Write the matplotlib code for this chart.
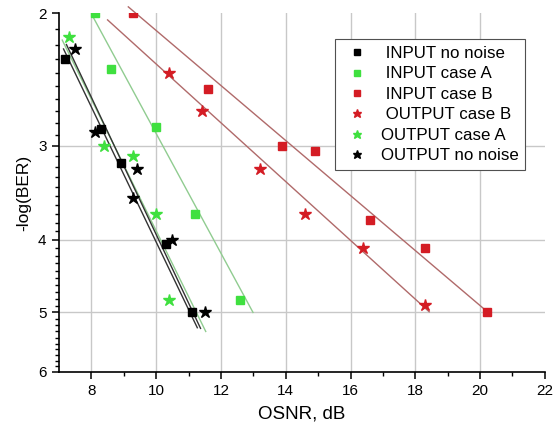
import numpy as np
import matplotlib
matplotlib.use('Agg')
import matplotlib.pyplot as plt
from matplotlib.ticker import FixedLocator, FixedFormatter, NullFormatter

plt.rcParams['font.family'] = ['Liberation Sans', 'DejaVu Sans']

# OSNR (dB) vs -log(BER)
in_none_x = [7.2, 8.3, 8.9, 10.3, 11.1]
in_none_y = [2.30, 2.85, 3.16, 4.05, 5.0]
in_a_x = [8.1, 8.6, 10.0, 11.2, 12.6]
in_a_y = [2.0, 2.37, 2.83, 3.70, 4.82]
in_b_x = [9.3, 11.6, 13.9, 14.9, 16.6, 18.3, 20.2]
in_b_y = [2.0, 2.52, 3.0, 3.05, 3.77, 4.10, 5.0]
out_b_x = [10.4, 11.4, 13.2, 14.6, 16.4, 18.3]
out_b_y = [2.40, 2.70, 3.22, 3.70, 4.10, 4.89]
out_a_x = [7.3, 8.4, 9.3, 10.0, 10.4]
out_a_y = [2.15, 3.0, 3.10, 3.70, 4.82]
out_none_x = [7.5, 8.1, 9.4, 9.3, 10.5, 11.5]
out_none_y = [2.23, 2.88, 3.22, 3.52, 4.0, 5.0]

# trend lines as drawn in the figure (end points)
trend_in_none_x = [7.14, 11.27]
trend_in_none_y = [2.23, 5.24]
trend_in_a_x = [8.02, 12.99]
trend_in_a_y = [2.01, 5.0]
trend_in_b_x = [9.14, 20.25]
trend_in_b_y = [1.96, 5.0]
trend_out_b_x = [8.5, 18.43]
trend_out_b_y = [2.04, 4.99]
trend_out_a_x = [7.10, 11.53]
trend_out_a_y = [2.17, 5.30]
trend_out_none_x = [7.23, 11.37]
trend_out_none_y = [2.20, 5.25]

labels = [' INPUT no noise', ' INPUT case A', ' INPUT case B',
          ' OUTPUT case B', 'OUTPUT case A', 'OUTPUT no noise']
xticks = [8, 10, 12, 14, 16, 18, 20, 22]
yticks = [2, 3, 4, 5, 6]

black = '#000000'
green = '#3fe03f'
red = '#d41c24'
dark_line = '#333333'
green_line = '#90cc90'
red_line = '#b06a6a'

series = [
    (in_none_x, in_none_y, black, 's', 6, trend_in_none_x, trend_in_none_y, dark_line),
    (in_a_x, in_a_y, green, 's', 6, trend_in_a_x, trend_in_a_y, green_line),
    (in_b_x, in_b_y, red, 's', 6, trend_in_b_x, trend_in_b_y, red_line),
    (out_b_x, out_b_y, red, '*', 9, trend_out_b_x, trend_out_b_y, red_line),
    (out_a_x, out_a_y, green, '*', 9, trend_out_a_x, trend_out_a_y, green_line),
    (out_none_x, out_none_y, black, '*', 9, trend_out_none_x, trend_out_none_y, dark_line),
]

fig = plt.figure(figsize=(5.54, 4.34), dpi=100)
ax = fig.add_axes([0.1065, 0.143, 0.877, 0.826])

for v in xticks[:-1]:
    ax.axvline(v, color='#c8c8c8', lw=1.0, zorder=0)
for v in yticks[1:-1]:
    ax.axhline(v, color='#c8c8c8', lw=1.0, zorder=0)

for (x, y, c, m, ms, tx, ty, lc), lab in zip(series, labels):
    ax.plot(tx, ty, color=lc, lw=1.0, zorder=1, clip_on=False)
    ax.plot(x, y, ls='none', marker=m, ms=ms, color=c, mec=c, label=lab, zorder=3)

ax.set_yscale('log')
ax.set_xlim(7, 22)
ax.set_ylim(6, 2)
ax.xaxis.set_major_locator(FixedLocator(xticks))
ax.xaxis.set_minor_locator(FixedLocator(np.arange(9, 22, 2)))
ax.yaxis.set_major_locator(FixedLocator(yticks))
ax.yaxis.set_major_formatter(FixedFormatter([str(v) for v in yticks]))
ax.yaxis.set_minor_locator(FixedLocator(np.arange(2.1, 6.0, 0.1)))
ax.yaxis.set_minor_formatter(NullFormatter())

for s in ['top', 'right']:
    ax.spines[s].set_visible(False)
for s in ['left', 'bottom']:
    ax.spines[s].set_linewidth(1.2)

ax.tick_params(which='major', length=5, width=1.1, labelsize=11, pad=4)
ax.tick_params(which='minor', length=3, width=1.0)

ax.set_xlabel('OSNR, dB', fontsize=13.5, labelpad=5)
ax.set_ylabel('-log(BER)', fontsize=12.5, labelpad=5)

leg = ax.legend(loc='upper right', bbox_to_anchor=(0.96, 0.928), fontsize=12.2,
                frameon=True, fancybox=False, edgecolor='#505050', framealpha=1,
                handlelength=1.8, handletextpad=0.5, labelspacing=0.32,
                borderpad=0.4, borderaxespad=0, markerscale=0.7)
leg.get_frame().set_linewidth(0.8)

fig.savefig('out.png', dpi=100)
